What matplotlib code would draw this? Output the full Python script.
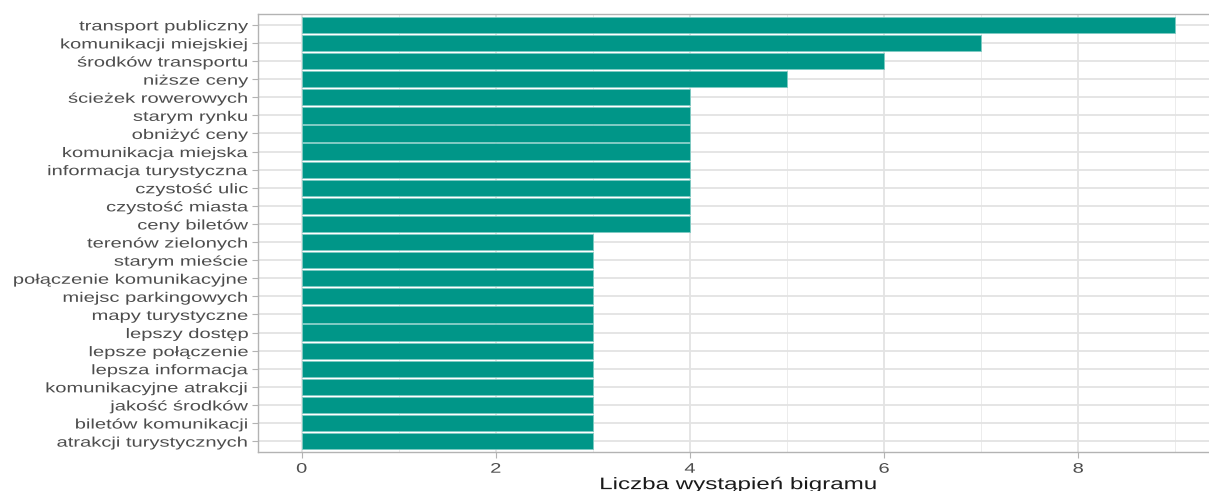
import matplotlib
matplotlib.use("Agg")
import matplotlib.pyplot as plt
from matplotlib.ticker import MultipleLocator
from matplotlib.patheffects import AbstractPathEffect
from matplotlib.transforms import Affine2D

plt.rcParams['font.family'] = ['Liberation Sans', 'DejaVu Sans']

bigrams = [
    "transport publiczny", "komunikacji miejskiej", "środków transportu",
    "niższe ceny", "ścieżek rowerowych", "starym rynku", "obniżyć ceny",
    "komunikacja miejska", "informacja turystyczna", "czystość ulic",
    "czystość miasta", "ceny biletów", "terenów zielonych", "starym mieście",
    "połączenie komunikacyjne", "miejsc parkingowych", "mapy turystyczne",
    "lepszy dostęp", "lepsze połączenie", "lepsza informacja",
    "komunikacyjne atrakcji", "jakość środków", "biletów komunikacji",
    "atrakcji turystycznych",
]
counts = [9, 7, 6, 5, 4, 4, 4, 4, 4, 4, 4, 4, 3, 3, 3, 3, 3, 3, 3, 3, 3, 3, 3, 3]


class HStretch(AbstractPathEffect):
    """Widen glyphs horizontally around the right edge or the centre."""

    def __init__(self, sx, anchor="center"):
        super().__init__()
        self.sx = sx
        self.anchor = anchor

    def draw_path(self, renderer, gc, tpath, affine, rgbFace=None):
        ext = tpath.get_extents(affine)
        x0 = ext.x1 if self.anchor == "right" else 0.5 * (ext.x0 + ext.x1)
        aff = affine + Affine2D().translate(-x0, 0).scale(self.sx, 1).translate(x0, 0)
        renderer.draw_path(gc, tpath, aff, rgbFace)


SX = 1.45

W, H = 1209, 491
fig = plt.figure(figsize=(W / 100, H / 100), dpi=100)
left, right, top, bottom = 258, 1219, 14, 452
ax = fig.add_axes([left / W, 1 - bottom / H, (right - left) / W, (bottom - top) / H])

n = len(bigrams)
ypos = list(range(n - 1, -1, -1))
ax.barh(ypos, counts, height=0.9, color="#009688", edgecolor="#7fcbc3",
        linewidth=0.6, zorder=3)

ax.set_xlim(-0.45, 9.45)
ax.set_ylim(-0.6, n - 0.4)
ax.set_yticks(ypos)
ax.set_yticklabels(bigrams)
ax.xaxis.set_major_locator(MultipleLocator(2))
ax.xaxis.set_minor_locator(MultipleLocator(1))

ax.grid(which="major", axis="both", color="#e3e3e3", linewidth=1.3, zorder=0)
ax.grid(which="minor", axis="x", color="#ececec", linewidth=0.7, zorder=0)
ax.set_axisbelow(True)

for s in ax.spines.values():
    s.set_color("#b3b3b3")
    s.set_linewidth(1.0)

ax.tick_params(axis="both", which="major", color="#b3b3b3", length=4,
               width=0.8, labelsize=10, labelcolor="#4d4d4d", pad=3)
ax.tick_params(axis="x", which="minor", length=0)

for lab in ax.get_yticklabels():
    lab.set_path_effects([HStretch(SX, "right")])
for lab in ax.get_xticklabels():
    lab.set_path_effects([HStretch(SX, "center")])

xl = ax.set_xlabel("Liczba wystąpień bigramu", fontsize=12, color="#1a1a1a", labelpad=1)
xl.set_path_effects([HStretch(SX, "center")])

fig.savefig("out.png", dpi=100)
